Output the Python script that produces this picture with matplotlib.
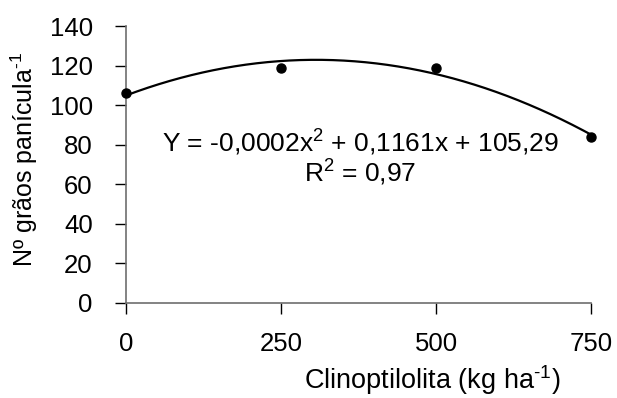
import numpy as np
import matplotlib
matplotlib.use("Agg")
import matplotlib.pyplot as plt

plt.rcParams['font.family'] = ['Liberation Sans', 'DejaVu Sans']
plt.rcParams['mathtext.fontset'] = 'custom'
plt.rcParams['mathtext.rm'] = 'Liberation Sans'
plt.rcParams['mathtext.it'] = 'Liberation Sans'
plt.rcParams['mathtext.bf'] = 'Liberation Sans'
plt.rcParams['mathtext.sf'] = 'Liberation Sans'
plt.rcParams['mathtext.default'] = 'regular'

# Clinoptilolite dose (kg/ha) and number of grains per panicle
doses = [0, 250, 500, 750]
grains = [106, 119, 119, 84]
x_ticks = [0, 250, 500, 750]
y_ticks = [0, 20, 40, 60, 80, 100, 120, 140]

fig = plt.figure(figsize=(6.17, 3.98), dpi=100)
ax = fig.add_axes([126/617, 1 - 303/398, (591 - 126)/617, (303 - 26)/398])

# Quadratic trend fitted to the observations
coef = np.polyfit(doses, grains, 2)
xs = np.linspace(min(doses), max(doses), 300)
ax.plot(xs, np.polyval(coef, xs), color='black', lw=1.6, zorder=2, clip_on=False)
ax.plot(doses, grains, 'o', color='black', ms=6.5, zorder=3, clip_on=False)

ax.set_xlim(0, 750)
ax.set_ylim(0, 140)
ax.set_xticks(x_ticks)
ax.set_yticks(y_ticks)
ax.tick_params(axis='both', labelsize=18.5, length=8, width=1, color='black')
ax.tick_params(axis='y', pad=16)
ax.tick_params(axis='x', pad=13)
for side in ('top', 'right'):
    ax.spines[side].set_visible(False)
for side in ('left', 'bottom'):
    ax.spines[side].set_color('#6e6e6e')
    ax.spines[side].set_linewidth(1.2)

ax.text(360/617, 1 - 152/398, 'Y = -0,0002x$^{2}$ + 0,1161x + 105,29',
        transform=fig.transFigure, ha='center', va='baseline', fontsize=19)
ax.text(360/617, 1 - 182/398, 'R$^{2}$ = 0,97',
        transform=fig.transFigure, ha='center', va='baseline', fontsize=19)

fig.text(432/617, 1 - 389/398, r'Clinoptilolita (kg ha$^{\text{-}1}$)',
         ha='center', va='baseline', fontsize=19.5)
fig.text(24/617, 1 - 159/398, r'Nº grãos panícula$^{\text{-}1}$', rotation=90,
         ha='center', va='center', fontsize=18)

fig.savefig('out.png', dpi=100)
